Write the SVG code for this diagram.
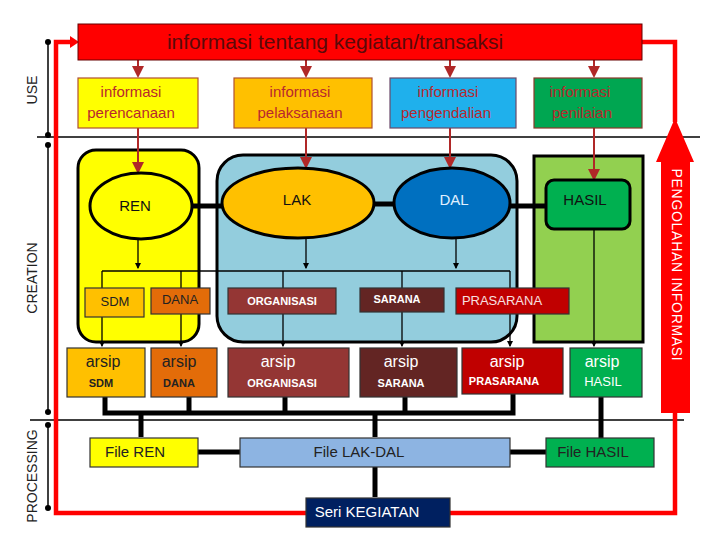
<svg xmlns="http://www.w3.org/2000/svg" width="720" height="540" viewBox="0 0 720 540">
<defs>
<style>
text{font-family:"Liberation Sans","DejaVu Sans",sans-serif;text-anchor:middle;dominant-baseline:middle}
.info{font-size:15px;fill:#B8282E}
.box{stroke:#333;stroke-width:1.2}
.cont{stroke:#000;stroke-width:3}
.thin{stroke:#000;stroke-width:1.3;fill:none}
.red{stroke:#B02828;stroke-width:2;fill:none}
.thick{stroke:#000;stroke-width:5;fill:none}
.loop{stroke:#F00;stroke-width:4.5;fill:none}
.dim{stroke:#000;stroke-width:1.5}
.side{font-size:14px;fill:#222}
.sm{font-size:11px;font-weight:bold}
.ar{font-size:16px}
.w{fill:#fff}
.d{fill:#222}
</style>
<marker id="ar" viewBox="0 0 6 6" refX="5" refY="3" markerWidth="6" markerHeight="6" orient="auto"><path d="M0,0 L6,3 L0,6 z" fill="#B02828"/></marker>
<marker id="ab" viewBox="0 0 6 6" refX="5" refY="3" markerWidth="5" markerHeight="5" orient="auto"><path d="M0,0 L6,3 L0,6 z" fill="#000"/></marker>
<marker id="dot" viewBox="0 0 6 6" refX="3" refY="3" markerWidth="4" markerHeight="4"><circle cx="3" cy="3" r="3" fill="#000"/></marker>
</defs>
<rect width="720" height="540" fill="#fff"/>

<!-- dividers and side labels -->
<g id="dividers">
<line x1="37" y1="137" x2="700" y2="137" class="dim" stroke-width="1"/>
<line x1="30" y1="420" x2="684" y2="420" class="dim" stroke-width="1"/>
<line x1="48" y1="42" x2="48" y2="135" class="dim" marker-start="url(#dot)" marker-end="url(#dot)"/>
<line x1="48" y1="145" x2="48" y2="412" class="dim" marker-start="url(#dot)" marker-end="url(#dot)"/>
<line x1="48" y1="425" x2="48" y2="508" class="dim" marker-start="url(#dot)" marker-end="url(#dot)"/>
<text class="side" transform="translate(33,90) rotate(-90)">USE</text>
<text class="side" transform="translate(33,278) rotate(-90)">CREATION</text>
<text class="side" transform="translate(33,476) rotate(-90)">PROCESSING</text>
</g>

<!-- containers -->
<g id="cont-ren"><rect x="78" y="150" width="121" height="192" rx="18" fill="#FFFF00" class="cont"/></g>
<g id="cont-lakdal"><rect x="217" y="155" width="300" height="187" rx="26" fill="#93CDDD" class="cont"/></g>
<g id="cont-hasil"><rect x="534" y="156" width="109" height="186" fill="#92D050" class="cont"/></g>

<!-- connectors -->
<g id="connectors">
<polyline class="loop" points="306,513 56,513 56,42 72,42"/>
<path d="M70,36 L79,42 L70,48 z" fill="#F00"/>
<polyline class="loop" points="450,513 675,513 675,412"/>
<polyline class="loop" points="642,42 675,42 675,122"/>
<line x1="138" y1="60" x2="138" y2="76" class="red" marker-end="url(#ar)"/>
<line x1="306" y1="60" x2="306" y2="76" class="red" marker-end="url(#ar)"/>
<line x1="450" y1="60" x2="450" y2="76" class="red" marker-end="url(#ar)"/>
<line x1="594" y1="60" x2="594" y2="76" class="red" marker-end="url(#ar)"/>
<line x1="138" y1="128" x2="138" y2="172" class="red" marker-end="url(#ar)"/>
<line x1="306" y1="128" x2="306" y2="167" class="red" marker-end="url(#ar)"/>
<line x1="450" y1="128" x2="450" y2="167" class="red" marker-end="url(#ar)"/>
<line x1="594" y1="128" x2="594" y2="179" class="red" marker-end="url(#ar)"/>
<line x1="192" y1="206" x2="222" y2="206" class="thick" stroke-width="6"/>
<line x1="373" y1="204" x2="395" y2="204" class="thick" stroke-width="6"/>
<line x1="510" y1="206" x2="546" y2="206" class="thick" stroke-width="6"/>
<line x1="138" y1="239" x2="138" y2="268" class="thin" marker-end="url(#ab)"/>
<line x1="306" y1="238" x2="306" y2="268" class="thin" marker-end="url(#ab)"/>
<line x1="456" y1="238" x2="456" y2="268" class="thin" marker-end="url(#ab)"/>
<line x1="102" y1="271" x2="510" y2="271" class="thin"/>
<line x1="102" y1="271" x2="102" y2="288" class="thin"/>
<line x1="181" y1="271" x2="181" y2="288" class="thin"/>
<line x1="283" y1="271" x2="283" y2="288" class="thin"/>
<line x1="402" y1="271" x2="402" y2="288" class="thin"/>
<line x1="510" y1="271" x2="510" y2="346" class="thin" marker-end="url(#ab)"/>
<line x1="102" y1="317" x2="102" y2="346" class="thin" marker-end="url(#ab)"/>
<line x1="181" y1="314" x2="181" y2="346" class="thin" marker-end="url(#ab)"/>
<line x1="283" y1="314" x2="283" y2="346" class="thin" marker-end="url(#ab)"/>
<line x1="402" y1="312" x2="402" y2="346" class="thin" marker-end="url(#ab)"/>
<line x1="594" y1="229" x2="594" y2="346" class="thin" marker-end="url(#ab)"/>
<polyline class="thick" points="105,397 105,413 513,413 513,394"/>
<line x1="189" y1="397" x2="189" y2="413" class="thick"/>
<line x1="285" y1="397" x2="285" y2="413" class="thick"/>
<line x1="405" y1="397" x2="405" y2="413" class="thick"/>
<line x1="141" y1="413" x2="141" y2="437" class="thick"/>
<line x1="375" y1="413" x2="375" y2="437" class="thick"/>
<line x1="601" y1="397" x2="601" y2="438" class="thick"/>
<line x1="198" y1="452" x2="240" y2="452" class="thick" stroke-width="6"/>
<line x1="510" y1="452" x2="546" y2="452" class="thick" stroke-width="6"/>
<line x1="375" y1="467" x2="375" y2="497" class="thick"/>
</g>

<!-- big arrow -->
<g id="pengolahan">
<path d="M675,118 L694,162 L690,162 L690,413 L661,413 L661,162 L656,162 z" fill="#F00"/>
<text transform="translate(676,265) rotate(90)" style="font-size:14px;fill:#fff;letter-spacing:0.7px">PENGOLAHAN INFORMASI</text>
</g>

<!-- top bar -->
<g id="top"><rect x="78" y="24" width="564" height="36" fill="#F00" stroke="#600" stroke-width="1"/>
<text x="335" y="43" style="font-size:21px;fill:#5A0A0A">informasi tentang kegiatan/transaksi</text></g>

<!-- info boxes -->
<g id="info-ren"><rect x="78" y="78" width="120" height="50" fill="#FFFF00" stroke="#B05030" stroke-width="1.2"/>
<text x="131" y="93" class="info">informasi</text><text x="131" y="114" class="info">perencanaan</text></g>
<g id="info-lak"><rect x="234" y="78" width="138" height="50" fill="#FFC000" stroke="#B05030" stroke-width="1.2"/>
<text x="300" y="93" class="info">informasi</text><text x="300" y="114" class="info">pelaksanaan</text></g>
<g id="info-dal"><rect x="390" y="78" width="126" height="50" fill="#1FB0EC" stroke="#6A4A6A" stroke-width="1.2"/>
<text x="448" y="93" class="info">informasi</text><text x="446" y="114" class="info">pengendalian</text></g>
<g id="info-hasil"><rect x="534" y="78" width="108" height="50" fill="#00A651" stroke="#8A3A2A" stroke-width="1.2"/>
<text x="580" y="93" class="info">informasi</text><text x="582" y="114" class="info">penilaian</text></g>

<!-- processes -->
<g id="ren"><ellipse cx="141" cy="206" rx="51" ry="33" fill="#FFFF00" stroke="#000" stroke-width="3"/>
<text x="135" y="207" style="font-size:15px;fill:#111">REN</text></g>
<g id="lak"><ellipse cx="298" cy="203" rx="76" ry="35" fill="#FFC000" stroke="#000" stroke-width="3"/>
<text x="297" y="201" style="font-size:15px;fill:#111">LAK</text></g>
<g id="dal"><ellipse cx="452" cy="203" rx="58" ry="35" fill="#0070C0" stroke="#000" stroke-width="3"/>
<text x="454" y="201" style="font-size:15px;fill:#E0F0FF">DAL</text></g>
<g id="hasil"><rect x="546" y="180" width="84" height="49" rx="8" fill="#00B050" stroke="#000" stroke-width="3"/>
<text x="585" y="201" style="font-size:15px;fill:#111">HASIL</text></g>

<!-- resources -->
<g id="sdm"><rect x="85" y="288" width="59" height="29" fill="#FFC000" class="box"/><text x="115" y="303" style="font-size:13px" class="d">SDM</text></g>
<g id="dana"><rect x="151" y="288" width="59" height="26" fill="#E36C09" class="box"/><text x="180" y="301" style="font-size:13px" class="d">DANA</text></g>
<g id="organisasi"><rect x="228" y="288" width="108" height="26" fill="#943634" class="box"/><text x="282" y="302" class="sm w">ORGANISASI</text></g>
<g id="sarana"><rect x="360" y="288" width="84" height="24" fill="#632523" class="box"/><text x="397" y="300" class="sm w">SARANA</text></g>
<g id="prasarana"><rect x="456" y="288" width="113" height="26" fill="#C00000" class="box"/><text x="502" y="302" style="font-size:13px;fill:#F8E0E0">PRASARANA</text></g>

<!-- arsip -->
<g id="arsip-sdm"><rect x="67" y="348" width="78" height="49" fill="#FFC000" class="box"/><text x="103" y="363" class="ar d">arsip</text><text x="101" y="384" class="sm d">SDM</text></g>
<g id="arsip-dana"><rect x="151" y="348" width="66" height="49" fill="#E36C09" class="box"/><text x="179" y="363" class="ar d">arsip</text><text x="179" y="384" class="sm d">DANA</text></g>
<g id="arsip-organisasi"><rect x="228" y="348" width="121" height="49" fill="#943634" class="box"/><text x="278" y="363" class="ar w">arsip</text><text x="282" y="384" class="sm w">ORGANISASI</text></g>
<g id="arsip-sarana"><rect x="360" y="348" width="97" height="49" fill="#632523" class="box"/><text x="401" y="363" class="ar w">arsip</text><text x="401" y="384" class="sm w">SARANA</text></g>
<g id="arsip-prasarana"><rect x="462" y="348" width="101" height="46" fill="#C00000" class="box"/><text x="507" y="363" class="ar w">arsip</text><text x="504" y="382" class="sm w">PRASARANA</text></g>
<g id="arsip-hasil"><rect x="570" y="348" width="72" height="49" fill="#00B050" class="box"/><text x="602" y="363" class="ar w">arsip</text><text x="603" y="383" style="font-size:13px" class="w">HASIL</text></g>

<!-- files -->
<g id="file-ren"><rect x="90" y="438" width="108" height="29" fill="#FFFF00" class="box"/><text x="135" y="453" style="font-size:15px" class="d">File REN</text></g>
<g id="file-lakdal"><rect x="240" y="438" width="270" height="29" fill="#8DB4E2" class="box"/><text x="359" y="453" style="font-size:15px" class="d">File LAK-DAL</text></g>
<g id="file-hasil"><rect x="546" y="438" width="108" height="29" fill="#00B050" class="box"/><text x="593" y="453" style="font-size:15px" class="d">File HASIL</text></g>
<g id="seri"><rect x="306" y="498" width="144" height="29" fill="#002060" class="box"/><text x="367" y="513" style="font-size:15px" class="w">Seri KEGIATAN</text></g>
</svg>
